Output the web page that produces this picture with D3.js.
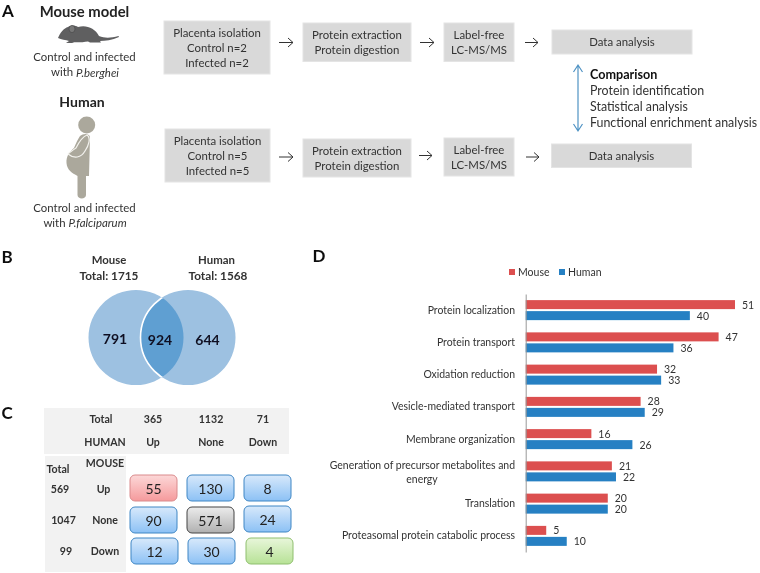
<!DOCTYPE html>
<html><head><meta charset="utf-8">
<script src="https://cdn.jsdelivr.net/npm/d3@7"></script>
<style>html,body{margin:0;padding:0;background:#fff}svg{display:block;font-family:Lato,sans-serif}</style>
</head><body><svg id="c" width="760" height="573"></svg>
<script>
const categories=["Protein localization","Protein transport","Oxidation reduction","Vesicle-mediated transport","Membrane organization","Generation of precursor metabolites and|energy","Translation","Proteasomal protein catabolic process"];
const mouseValues=[51,47,32,28,16,21,20,5];
const humanValues=[40,36,33,29,26,22,20,10];
const vennValues=[791,924,644];
const humanTotals=["365","1132","71"];
const humanHeads=["Up","None","Down"];
const mouseTotals=["569","1047","99"];
const mouseHeads=["Up","None","Down"];
const matrix=[[55,130,8],[90,571,24],[12,30,4]];
const comparison=["Protein identification","Statistical analysis","Functional enrichment analysis"];

const svg=d3.select("#c");
const defs=svg.append("defs");
function grad(id,a,b){const g=defs.append("linearGradient").attr("id",id).attr("x1",0).attr("y1",0).attr("x2",0).attr("y2",1);
 g.append("stop").attr("offset","0").attr("stop-color",a);g.append("stop").attr("offset","1").attr("stop-color",b);}
grad("gb","#d8e9fb","#8cc1f5");grad("gr","#fcd8d8","#f59a9c");grad("gk","#ececec","#b0b0b0");grad("gg","#e8f6da","#b7e296");
defs.append("filter").attr("id","soft").append("feGaussianBlur").attr("stdDeviation",0.35);
const root=svg.append("g").attr("filter","url(#soft)");
function T(x,y,s,o={}){return root.append("text").attr("x",x).attr("y",y).attr("text-anchor",o.a||"middle").attr("dominant-baseline","central")
 .attr("font-size",o.s||11.4).attr("font-weight",o.b?"700":"400").attr("fill",o.c||"#333").text(s);}
function box(x0,y0,x1,y1,lines,dy){root.append("rect").attr("x",x0).attr("y",y0).attr("width",x1-x0).attr("height",y1-y0).attr("fill","#d9d9d9").attr("stroke","#e4e4e4").attr("stroke-width",1);
 const cx=(x0+x1)/2,cy=(y0+y1)/2;lines.forEach((l,i)=>T(cx,cy+(i-(lines.length-1)/2)*dy-0.5,l));}
function arrow(x0,x1,y,col="#333"){root.append("path").attr("d",`M${x0},${y}H${x1}M${x1-5},${y-4.5}L${x1},${y}L${x1-5},${y+4.5}`).attr("fill","none").attr("stroke",col).attr("stroke-width",1);}

// Panel letters
T(8,10,"A",{s:17,b:1,c:"#111"});T(7,256,"B",{s:17,b:1,c:"#111"});T(7,412,"C",{s:17,b:1,c:"#111"});T(319,255,"D",{s:17,b:1,c:"#111"});

// Panel A
T(84.5,10.5,"Mouse model",{s:14.8,b:1,c:"#222"});
root.append("path").attr("fill","#5f5f61").attr("d","M58,38 C60,33 64,28 68,27 C71,25 75,25 78,27 C86,24.5 95,28 99,36 C105,38.5 111,38 118.5,36 L119,37 C112,40 105,41 100,41 L101,42.5 L90,42.5 L88,41.5 C82,42.5 75,42.5 72,42 L74,43 L66,43 L69,41 C66,39.5 61,40 58,38Z");
root.append("ellipse").attr("cx",72).attr("cy",29).attr("rx",3).attr("ry",3.6).attr("fill","#777").attr("stroke","#444").attr("stroke-width",.6);
T(84.5,56,"Control and infected");
const wb=T(85,71.5,"with ");wb.append("tspan").attr("font-style","italic").text("P.berghei");
T(82,101,"Human",{s:14,b:1,c:"#222"});
root.append("circle").attr("cx",86.7).attr("cy",125).attr("r",8.5).attr("fill","#aba89c");
root.append("path").attr("fill","#aba89c").attr("d","M80,136 C83,133.5 89,133 90,137 L89,176 L86,176 L86,195 C86,199.5 77.5,199.5 77.5,195 L77.5,176 C72,173 67,170 66.5,163 C66,156 70,151 74,148 C76,143 78,139 80,136Z");
root.append("path").attr("fill","none").attr("stroke","#f3f2ee").attr("stroke-width",1.2).attr("d","M68,154 C74,159 81,158 85,151 C89,145 91,138 87,135 C82,137 79,142 76,148 C73,150 70,152 68,154");
T(84.5,207,"Control and infected");
const wf=T(85,222,"with ");wf.append("tspan").attr("font-style","italic").text("P.falciparum");

box(164,21,270,74,["Placenta isolation","Control n=2","Infected n=2"],15);
box(303,23,411,61.5,["Protein extraction","Protein digestion"],15);
box(444,23,514,61.5,["Label-free","LC-MS/MS"],15);
box(552,30,692,54,["Data analysis"],15);
box(165,129,270,182,["Placenta isolation","Control n=5","Infected n=5"],15);
box(303,139,411,177,["Protein extraction","Protein digestion"],15);
box(444,138,514,176,["Label-free","LC-MS/MS"],15);
box(551.5,144,691.5,167.5,["Data analysis"],15);
arrow(279,293,42.5);arrow(420,434,42.5);arrow(525,538,42.5);
arrow(279,293,157);arrow(419,432,155.5);arrow(526,539,157);
root.append("path").attr("d","M578,66V130M573.5,72L578,65L582.5,72M573.5,124L578,131L582.5,124").attr("fill","none").attr("stroke","#4f93c4").attr("stroke-width",1.2);
T(590,74,"Comparison",{a:"start",b:1,c:"#111",s:12.6});
comparison.forEach((s,i)=>T(590,90.5+i*16,s,{a:"start",s:12.4}));

// Panel B
T(109,259,"Mouse",{b:1});T(109,275,"Total: 1715",{b:1,s:11.8});
T(216.5,259,"Human",{b:1});T(218,275,"Total: 1568",{b:1,s:11.8});
const cL={x:136,y:337.5,r:47.5},cR={x:188,y:337.5,r:47.5};
defs.append("clipPath").attr("id","cl").append("circle").attr("cx",cL.x).attr("cy",cL.y).attr("r",cL.r);
root.append("circle").attr("cx",cL.x).attr("cy",cL.y).attr("r",cL.r).attr("fill","#9dc1e1");
root.append("circle").attr("cx",cR.x).attr("cy",cR.y).attr("r",cR.r).attr("fill","#9dc1e1");
root.append("circle").attr("cx",cR.x).attr("cy",cR.y).attr("r",cR.r).attr("fill","#5f9fd2").attr("stroke","#fff").attr("stroke-width",1.6).attr("clip-path","url(#cl)");
[[115,338.5],[160,339.5],[207.5,339]].forEach((p,i)=>T(p[0],p[1],vennValues[i],{s:14,b:1,c:"#112"}));

// Panel C
root.append("rect").attr("x",44).attr("y",408).attr("width",245).attr("height",46).attr("fill","#f2f2f2");
root.append("rect").attr("x",45).attr("y",456).attr("width",81).attr("height",116).attr("fill","#f2f2f2");
const hx=[153,211,263];const ts=10.6;
T(101,419,"Total",{b:1,s:ts});T(105,442,"HUMAN",{b:1,s:ts});
humanTotals.forEach((s,i)=>T(hx[i],419,s,{b:1,s:ts}));
humanHeads.forEach((s,i)=>T(hx[i],442,s,{b:1,s:ts}));
T(58,469,"Total",{b:1,s:ts});T(105,462.5,"MOUSE",{b:1,s:ts});
[[60,489],[63.5,520],[66,551]].forEach((p,i)=>T(p[0],p[1],mouseTotals[i],{b:1,s:ts}));
[[103.5,488.5],[105,519.5],[105,551]].forEach((p,i)=>T(p[0],p[1],mouseHeads[i],{b:1,s:ts}));
const cellX=[[130,187,244],[130,187,244],[131,188,246]];
const cellY=[[475,475,475],[507,507,506],[538,538,538]];
function cellStyle(r,c){return r==0&&c==0?["url(#gr)","#d98a8c"]:r==1&&c==1?["url(#gk)","#444"]:r==2&&c==2?["url(#gg)","#8fbf6f"]:["url(#gb)","#3f86c4"];}
matrix.forEach((row,r)=>row.forEach((v,c)=>{const [f,st]=cellStyle(r,c);
 root.append("rect").attr("x",cellX[r][c]).attr("y",cellY[r][c]).attr("width",47).attr("height",26).attr("rx",5).attr("fill",f).attr("stroke",st).attr("stroke-width",1);
 T(cellX[r][c]+23.5,cellY[r][c]+13.5,v,{s:14,c:"#222"});}));

// Panel D
const axisX=525.7;
const x=d3.scaleLinear().domain([0,51]).range([axisX,735]);
const y=d3.scaleBand().domain(categories).range([294,552]);
const barH=9,pad=1;
const g=root.append("g");
const rows=g.selectAll("g").data(categories).enter().append("g").attr("transform",d=>`translate(0,${y(d)})`);
const mid=y.bandwidth()/2;
rows.append("rect").attr("x",x(0)).attr("y",mid-pad-barH).attr("height",barH).attr("width",(d,i)=>x(mouseValues[i])-x(0)).attr("fill","#dc4f4f");
rows.append("rect").attr("x",x(0)).attr("y",mid+pad).attr("height",barH).attr("width",(d,i)=>x(humanValues[i])-x(0)).attr("fill","#2580c3");
const lab=(sel,vals,dy)=>sel.append("text").attr("x",(d,i)=>x(vals[i])+7).attr("y",mid+dy).attr("dominant-baseline","central").attr("font-size",10.5).attr("fill","#333").text((d,i)=>vals[i]);
lab(rows,mouseValues,-5.5);lab(rows,humanValues,5.5);
rows.each(function(d){const parts=d.split("|");parts.forEach((p,i)=>{d3.select(this).append("text").attr("x",parts.length>1&&i==1?422:515).attr("y",mid+(parts.length>1?(i==0?-6.5:7.5):-0.5)).attr("text-anchor",parts.length>1&&i==1?"middle":"end").attr("dominant-baseline","central").attr("font-size",10.45).attr("fill","#333").text(p);});});
const axis=d3.axisLeft(y).tickSize(0).tickFormat("");
const ag=g.append("g").attr("transform",`translate(${axisX},0)`).call(axis);
ag.select(".domain").attr("stroke","#999").attr("stroke-width",1);
const legend=[["Mouse","#dc4f4f",509],["Human","#2580c3",559]];
legend.forEach(l=>{root.append("rect").attr("x",l[2]).attr("y",269).attr("width",6).attr("height",6).attr("fill",l[1]);T(l[2]+9,272,l[0],{a:"start",s:10.5});});
</script></body></html>
